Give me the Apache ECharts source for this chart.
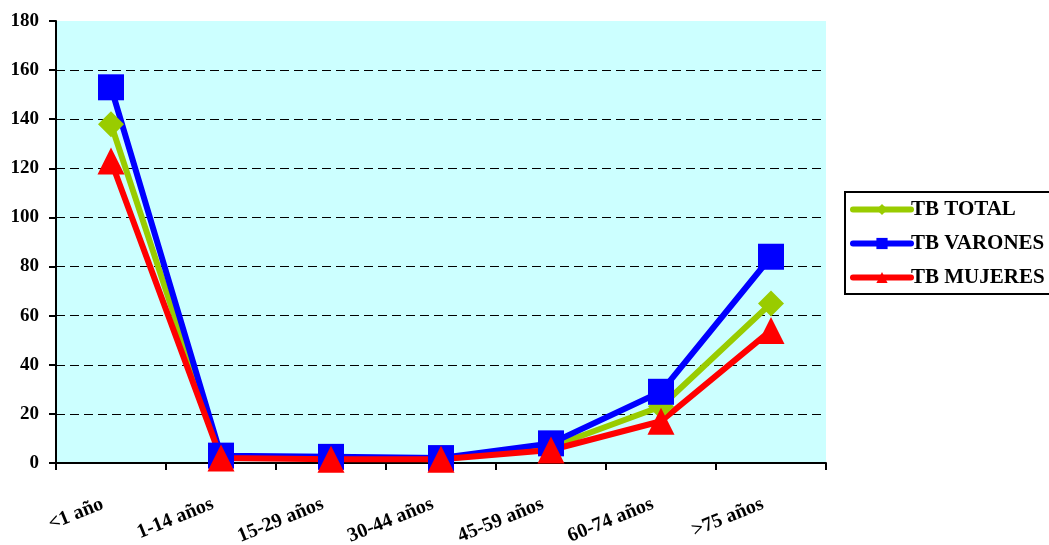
<!DOCTYPE html>
<html>
<head>
<meta charset="utf-8">
<script src="https://cdn.jsdelivr.net/npm/echarts@6/dist/echarts.min.js"></script>
<style>
  html, body { margin: 0; padding: 0; background: #fff; }
  #chart { width: 1049px; height: 545px; }
</style>
</head>
<body>
<div id="chart"></div>
<script>
// datos
var categorias = ['<1 año', '1-14 años', '15-29 años', '30-44 años', '45-59 años', '60-74 años', '>75 años'];
var tbTotal = [138, 2.5, 2, 1.5, 6.5, 23, 65];
var tbVarones = [153, 3, 2.5, 2, 8, 29, 84];
var tbMujeres = [123, 2, 1.5, 1.5, 5.3, 17, 54];

var fuente = 'Liberation Serif';

var chart = echarts.init(document.getElementById('chart'));

function serie(nombre, datos, color, simbolo, tam) {
    return {
        name: nombre,
        type: 'line',
        data: datos,
        symbol: simbolo,
        symbolSize: tam,
        showAllSymbol: true,
        lineStyle: { color: color, width: 6 },
        itemStyle: { color: color },
        emphasis: { disabled: true },
        animation: false
    };
}

var option = {
    backgroundColor: '#fff',
    grid: {
        left: 56,
        right: 223,
        top: 21,
        bottom: 82,
        outerBoundsMode: 'none',
        show: true,
        backgroundColor: '#CCFFFF',
        borderWidth: 0
    },
    legend: {
        orient: 'vertical',
        left: 845,
        top: 192,
        padding: [7, 20, 6, 5],
        itemGap: 13,
        itemWidth: 58,
        itemHeight: 14,
        borderColor: '#000',
        borderWidth: 2,
        borderRadius: 0,
        lineStyle: { width: 6, cap: 'round' },
        textStyle: { fontFamily: fuente, fontWeight: 'bold', fontSize: 21, color: '#000', padding: [0, 0, 0, -5] },
        data: ['TB TOTAL', 'TB VARONES', 'TB MUJERES']
    },
    xAxis: {
        type: 'category',
        data: categorias,
        boundaryGap: true,
        axisLine: { lineStyle: { color: '#000', width: 2 } },
        axisTick: { show: true, length: 7, lineStyle: { color: '#000', width: 2 } },
        axisLabel: {
            rotate: 22,
            margin: 37,
            padding: [0, 9, 0, 0],
            color: '#000',
            fontFamily: fuente,
            fontWeight: 'bold',
            fontSize: 20
        },
        splitLine: { show: false }
    },
    yAxis: {
        type: 'value',
        min: 0,
        max: 180,
        interval: 20,
        axisLine: { show: true, lineStyle: { color: '#000', width: 2 } },
        axisTick: { show: true, length: 7, lineStyle: { color: '#000', width: 2 } },
        axisLabel: {
            margin: 17,
            color: '#000',
            fontFamily: fuente,
            fontWeight: 'bold',
            fontSize: 19
        },
        splitLine: { show: true, showMaxLine: false, lineStyle: { color: '#000', type: [9, 5], width: 1 } }
    },
    series: [
        serie('TB TOTAL', tbTotal, '#99CC00', 'diamond', 26),
        serie('TB VARONES', tbVarones, '#0000FF', 'rect', 26),
        serie('TB MUJERES', tbMujeres, '#FF0000', 'triangle', 27)
    ]
};

chart.setOption(option);
</script>
</body>
</html>
